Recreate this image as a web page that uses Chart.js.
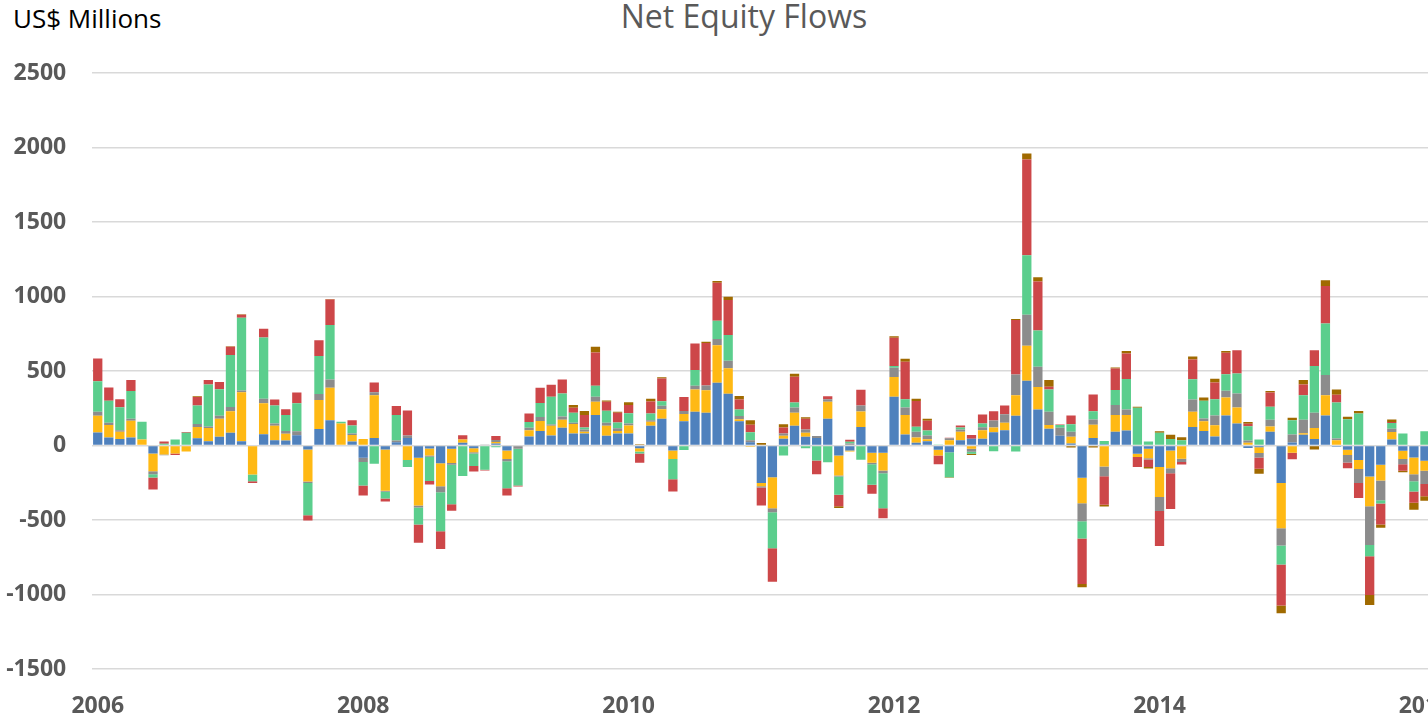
<!DOCTYPE html>
<html>
<head>
<meta charset="utf-8">
<script src="https://cdn.jsdelivr.net/npm/chart.js@4.4.1/dist/chart.umd.min.js"></script>
<style>
  html, body { margin: 0; padding: 0; background: #fff; overflow: hidden; width: 1428px; height: 719px; }
  #title { position: absolute; left: 744px; top: 0px; transform: translateX(-50%); font: 400 32px "Open Sans", sans-serif; color: #595959; line-height: 32px; white-space: nowrap; }
  #units { position: absolute; left: 13px; top: 5px; font: 400 26px "Open Sans", sans-serif; color: #000; line-height: 26px; white-space: nowrap; }
  #chart { position: absolute; left: 0; top: 0; }
</style>
</head>
<body>
<div id="title">Net Equity Flows</div>
<div id="units">US$ Millions</div>
<canvas id="chart" width="1500" height="719"></canvas>
<script>
/* ================= DATA (US$ millions, monthly Jan 2006 - Jan 2016) ================= */
const years = ["2006", "2007", "2008", "2009", "2010", "2011", "2012", "2013", "2014", "2015", "2016"];
const monthNames = ["Jan", "Feb", "Mar", "Apr", "May", "Jun", "Jul", "Aug", "Sep", "Oct", "Nov", "Dec"];
const yearTicks = ["2006", "2008", "2010", "2012", "2014", "2016"];

const seriesBlue = [
  87, 54, 43, 54, 0, -54, 0, 0, 0, 49, 29, 58,
  85, 29, 0, 76, 36, 34, 69, -27, 110, 170, 0, 27,
  -83, 51, -27, 22, 51, -83, -20, -119, -22, 18, -18, 0,
  13, -34, 0, 60, 98, 67, 119, 81, 81, 204, 65, 81,
  81, -18, 132, 179, -34, 163, 226, 219, 421, 347, 163, 22,
  -251, -213, 45, 132, 58, 51, 179, -67, -34, 125, -49, -49,
  327, 74, 18, 29, -29, -45, 36, 45, 45, 89, 103, 199,
  434, 242, 112, 65, 13, -217, 51, 9, 92, 101, -56, -22,
  -145, -34, 0, 125, 98, 60, 201, 148, -16, -11, 92, -251,
  20, 72, 43, 201, -9, -29, -98, -208, -130, 40, -36, -81,
  -103
];
const seriesYellow = [
  112, 83, 49, 112, 40, -119, -60, -54, -40, 76, 89, 121,
  145, 329, -195, 208, 96, 45, 0, -215, 195, 217, 148, 43,
  43, 286, -277, 0, -98, -320, -47, -154, -96, 22, -27, 0,
  11, -56, 0, 43, 67, 65, 54, 63, 11, 89, 67, 16,
  54, -22, 27, 65, -56, 49, 150, 152, 251, 172, 13, -9,
  -22, -208, 20, 87, 27, 0, 114, -134, -7, 103, -67, -119,
  132, 130, 36, 13, -38, 35, 56, -22, 58, 31, 49, 139,
  235, 150, 25, 0, 45, -170, 89, -141, 112, 103, -22, -63,
  -201, -119, -89, 101, 65, 76, 121, 107, 18, -40, 36, -304,
  -49, 11, 74, 136, 36, -34, -60, -199, -105, 51, -54, -112,
  -67
];
const seriesGray = [
  27, 16, 11, 13, 0, -20, -5, 0, 0, 20, 9, 20,
  29, 11, 0, 29, 16, 18, 27, -9, 40, 56, 0, 11,
  -27, 20, -7, 11, 16, -13, -9, -40, -11, 0, -9, 7,
  13, -16, -22, 16, 27, 9, 22, 9, 16, 34, 20, 18,
  13, 0, 11, 22, 0, 20, 25, 31, 43, 49, 22, 13,
  -9, -27, 16, 36, 22, 13, 18, -7, 13, 40, -9, -18,
  63, 51, 38, 25, 0, 13, 16, -20, 20, 47, 58, 139,
  208, 136, 89, 54, 34, -121, 34, -65, 67, 38, 0, -9,
  -94, -34, -22, 83, 18, 65, 45, 94, 16, -29, 45, -116,
  54, 89, 103, 136, 11, -51, -94, -260, -132, 22, -36, -47,
  -89
];
const seriesGreen = [
  206, 148, 154, 186, 119, -22, 11, 40, 85, 123, 282, 179,
  349, 488, -45, 412, 121, 107, 188, -217, 255, 365, 11, 54,
  -159, -123, -45, 172, -47, -114, -163, -262, -266, -204, -83, -163,
  -11, -181, -246, 38, 94, 186, 154, 67, 13, 74, 81, 40,
  69, -13, 45, 31, -136, -31, 105, 0, 123, 174, 43, 54,
  0, -242, -67, 34, -18, -101, -112, -123, 13, -96, -139, -235,
  11, 56, 34, 34, 7, -168, 13, -13, 25, -38, 0, -40,
  400, 244, 150, 18, 51, -116, 56, 22, 101, 204, 253, 27,
  85, 43, 36, 136, 119, 110, 112, 134, 96, 40, 87, -128,
  96, 166, 313, 345, 242, 177, 215, -76, -22, 38, 81, -69,
  96
];
const seriesRed = [
  152, 89, 54, 74, 0, -81, 16, -9, 5, 58, 31, 49,
  54, 20, -11, 58, 40, 40, 72, -36, 107, 172, 0, 34,
  -67, 65, -20, 60, 168, -123, -22, -119, -43, 29, -38, -4,
  27, -49, -7, 58, 101, 81, 94, 34, 83, 224, 60, 65,
  54, -63, 81, 152, -83, 94, 179, 286, 255, 235, 67, 51,
  -121, -224, 40, 172, 72, -92, 20, -76, 13, 107, -60, -67,
  190, 251, 172, 65, -58, 4, 13, 25, 60, 63, 58, 365,
  642, 329, 18, 4, 58, -306, 112, -192, 145, 172, -67, -51,
  -235, -239, -16, 132, 0, 112, 143, 157, 16, -76, 96, -275,
  -43, 72, 107, 253, 51, -38, -101, -260, -141, 7, -43, -76,
  -81
];
const seriesBrown = [
  0, 0, 0, 0, 0, 0, 0, 0, 0, 4, 0, 0,
  4, 4, 0, 0, 0, 0, 0, 0, 0, 4, 0, 0,
  0, 0, 0, 0, 0, 0, 0, 0, 0, 0, 0, 0,
  0, 0, 0, 0, 0, 0, 0, 18, 27, 38, 9, 7,
  20, 9, 18, 9, 0, 0, 0, 9, 11, 22, 25, 29,
  16, 0, 22, 20, 11, 0, 0, -13, 0, 0, 0, 0,
  11, 20, 16, 13, 0, -4, 0, -9, 0, 0, 0, 7,
  40, 29, 45, 0, -13, -22, -13, -11, 7, 16, 7, -9,
  11, 29, 20, 20, 22, 25, 13, 0, 11, -34, 9, -51,
  16, 29, -27, 38, 36, 16, 16, -67, -22, 16, -11, -47,
  -31
];

/* ================= CATEGORIES ================= */
const categories = [];
years.forEach(y => monthNames.forEach(m => categories.push(m + " " + y)));
categories.length = seriesBlue.length;

/* ================= STYLE ================= */
const tickFont = { family: "'Open Sans', sans-serif", size: 23, weight: "bold" };
const tickColor = "#595959";

function makeSet(label, data, color) {
    return { label, data, backgroundColor: color, borderWidth: 0, barPercentage: 0.84, categoryPercentage: 1.0 };
}

/* ================= CHART ================= */
// canvas is wider than the window: the plot runs on past the right edge like the cropped original
new Chart(document.getElementById("chart"), {
    type: "bar",
    data: {
        labels: categories,
        datasets: [
            makeSet("Series 1", seriesBlue, "#4F81BD"),
            makeSet("Series 2", seriesYellow, "#FFB914"),
            makeSet("Series 3", seriesGray, "#8C8C8C"),
            makeSet("Series 4", seriesGreen, "#5BCE8D"),
            makeSet("Series 5", seriesRed, "#CD4749"),
            makeSet("Series 6", seriesBrown, "#A06A00")
        ]
    },
    options: {
        responsive: false,
        animation: false,
        devicePixelRatio: 1,
        layout: { padding: { left: 0, top: 73, right: 69.5, bottom: 0 } },
        plugins: { legend: { display: false }, title: { display: false }, tooltip: { enabled: false } },
        scales: {
            x: {
                stacked: true,
                grid: { display: false, drawTicks: false },
                border: { display: false },
                afterFit: s => { s.height = 50; },
                ticks: {
                    autoSkip: false,
                    maxRotation: 0,
                    minRotation: 0,
                    padding: 24,
                    color: tickColor,
                    font: tickFont,
                    callback: (v, i) => (i % 24 === 0 ? yearTicks[i / 24] : "")
                }
            },
            y: {
                stacked: true,
                min: -1500,
                max: 2500,
                grid: { color: "#D9D9D9", lineWidth: 1.5, drawTicks: false },
                border: { display: false },
                afterFit: s => { s.width = 92.2; },
                ticks: { stepSize: 500, padding: 26, color: tickColor, font: tickFont, callback: v => String(v) }
            }
        }
    }
});
</script>
</body>
</html>
